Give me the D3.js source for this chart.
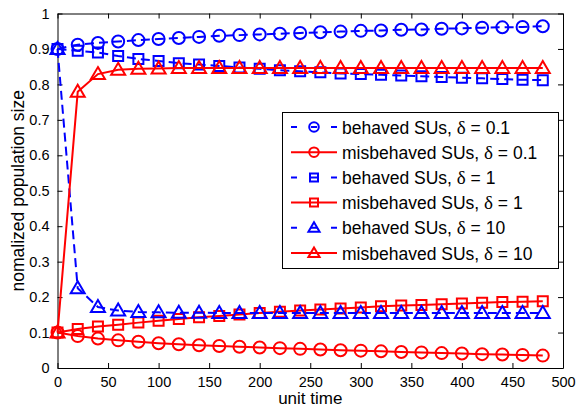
<!DOCTYPE html>
<html>
<head>
<meta charset="utf-8">
<script src="https://cdn.jsdelivr.net/npm/d3@7"></script>
<style>
  body { margin: 0; background: #fff; }
  text { font-family: "Liberation Sans", Arial, sans-serif; fill: #000; }
</style>
</head>
<body>
<div id="chart-area"></div>
<script>
// Data
const TIME = d3.range(0, 481, 20)

const behaved01 = [0.9, 0.912, 0.917, 0.921, 0.925, 0.928, 0.931, 0.934, 0.937, 0.939, 0.941, 0.943, 0.945,
  0.947, 0.949, 0.951, 0.952, 0.954, 0.955, 0.957, 0.958, 0.96, 0.961, 0.962, 0.964]
const misbehaved01 = [0.1, 0.09, 0.083, 0.078, 0.074, 0.07, 0.067, 0.064, 0.062, 0.06, 0.058, 0.056, 0.054,
  0.052, 0.05, 0.049, 0.047, 0.045, 0.044, 0.042, 0.041, 0.039, 0.038, 0.037, 0.035]
const behaved1 = [0.9, 0.895, 0.89, 0.88, 0.872, 0.866, 0.86, 0.856, 0.852, 0.848, 0.844, 0.84, 0.837,
  0.834, 0.831, 0.829, 0.827, 0.825, 0.823, 0.821, 0.819, 0.817, 0.815, 0.813, 0.812]
const misbehaved1 = [0.1, 0.11, 0.117, 0.122, 0.128, 0.133, 0.138, 0.143, 0.147, 0.151, 0.155, 0.159, 0.162,
  0.165, 0.168, 0.171, 0.174, 0.176, 0.178, 0.18, 0.182, 0.184, 0.186, 0.187, 0.188]
const behaved10 = [0.9, 0.225, 0.172, 0.162, 0.158, 0.157, 0.156, 0.156, 0.155, 0.155, 0.155, 0.155, 0.155,
  0.155, 0.155, 0.155, 0.155, 0.155, 0.155, 0.155, 0.155, 0.155, 0.155, 0.155, 0.155]
const misbehaved10 = [0.1, 0.779, 0.829, 0.841, 0.844, 0.845, 0.846, 0.846, 0.846, 0.846, 0.846, 0.846, 0.846,
  0.846, 0.846, 0.846, 0.846, 0.846, 0.846, 0.846, 0.846, 0.846, 0.846, 0.846, 0.846]

// legend text: [group, delta value]
const LABELS = [['behaved SUs, ', '0.1'], ['misbehaved SUs, ', '0.1'], ['behaved SUs, ', '1'],
  ['misbehaved SUs, ', '1'], ['behaved SUs, ', '10'], ['misbehaved SUs, ', '10']]
const X_TICKS = d3.range(0, 501, 50)
const Y_TICKS = d3.range(0, 1.01, 0.1)

const series = [
  { label: LABELS[0], values: behaved01, color: '#0000ff', dash: true, marker: 'circle' },
  { label: LABELS[1], values: misbehaved01, color: '#ff0000', dash: false, marker: 'circle' },
  { label: LABELS[2], values: behaved1, color: '#0000ff', dash: true, marker: 'square' },
  { label: LABELS[3], values: misbehaved1, color: '#ff0000', dash: false, marker: 'square' },
  { label: LABELS[4], values: behaved10, color: '#0000ff', dash: true, marker: 'triangle' },
  { label: LABELS[5], values: misbehaved10, color: '#ff0000', dash: false, marker: 'triangle' }
]

// Sizing
const W = 577, H = 408
const MARGIN = { LEFT: 57.5, RIGHT: 14, TOP: 13.5, BOTTOM: 40 }
const WIDTH = W - MARGIN.LEFT - MARGIN.RIGHT
const HEIGHT = H - MARGIN.TOP - MARGIN.BOTTOM

const svg = d3.select('#chart-area').append('svg')
  .attr('width', W)
  .attr('height', H)

const g = svg.append('g')
  .attr('transform', `translate(${MARGIN.LEFT}, ${MARGIN.TOP})`)

const x = d3.scaleLinear().domain([0, 500]).range([0, WIDTH])
const y = d3.scaleLinear().domain([0, 1]).range([HEIGHT, 0])

// Axes (ticks inward, box on)
const fmt = d => d3.format('.1~f')(d)
g.append('g').attr('transform', `translate(0, ${HEIGHT})`)
  .call(d3.axisBottom(x).tickValues(X_TICKS).tickSizeInner(-5).tickSizeOuter(0).tickPadding(9))
g.append('g')
  .call(d3.axisTop(x).tickValues(X_TICKS).tickSizeInner(-5).tickSizeOuter(0).tickFormat(''))
g.append('g')
  .call(d3.axisLeft(y).tickValues(Y_TICKS).tickSizeInner(-5).tickSizeOuter(0).tickPadding(8).tickFormat(fmt))
g.append('g').attr('transform', `translate(${WIDTH}, 0)`)
  .call(d3.axisRight(y).tickValues(Y_TICKS).tickSizeInner(-5).tickSizeOuter(0).tickFormat(''))

g.selectAll('.domain').attr('stroke', '#000').attr('stroke-width', 1)
g.selectAll('.tick line').attr('stroke', '#000')
g.selectAll('.tick text').attr('font-size', '14.5px').attr('font-family', '"Liberation Sans", Arial, sans-serif')

// Axis labels
g.append('text')
  .attr('x', WIDTH / 2)
  .attr('y', HEIGHT + 36)
  .attr('text-anchor', 'middle')
  .attr('font-size', '17px')
  .text('unit time')

g.append('text')
  .attr('transform', 'rotate(-90)')
  .attr('x', -HEIGHT / 2)
  .attr('y', -34)
  .attr('text-anchor', 'middle')
  .attr('font-size', '17.5px')
  .text('nomalized population size')

// markers
function markerPath(type, k = 1) {
  if (type === 'circle') return `M${6 * k},0A${6 * k},${6 * k} 0 1,1 ${-6 * k},0A${6 * k},${6 * k} 0 1,1 ${6 * k},0Z`
  if (type === 'square') return `M${-5 * k},${-5 * k}H${5 * k}V${5 * k}H${-5 * k}Z`
  return `M0,${-7 * k}L${7 * k},${5 * k}H${-7 * k}Z`
}

const line = d3.line()
  .x((d, i) => x(TIME[i]))
  .y(d => y(d))

series.forEach(s => {
  g.append('path')
    .datum(s.values)
    .attr('fill', 'none')
    .attr('stroke', s.color)
    .attr('stroke-width', 2)
    .attr('stroke-dasharray', s.dash ? '9,5' : null)
    .attr('d', line)

  g.selectAll(null)
    .data(s.values)
    .enter().append('path')
    .attr('transform', (d, i) => `translate(${x(TIME[i])}, ${y(d)})`)
    .attr('d', markerPath(s.marker))
    .attr('fill', 'none')
    .attr('stroke', s.color)
    .attr('stroke-width', 2)
})

// Legend
const LEG = { X: 282, Y: 112, W: 276, H: 156, ROW: 25.2 }
const legend = svg.append('g')
legend.append('rect')
  .attr('x', LEG.X + 0.5).attr('y', LEG.Y + 0.5)
  .attr('width', LEG.W).attr('height', LEG.H)
  .attr('fill', '#fff').attr('stroke', '#000').attr('stroke-width', 1)

series.forEach((s, i) => {
  const cy = LEG.Y + 15 + i * LEG.ROW
  const row = legend.append('g')
  row.append('line')
    .attr('x1', LEG.X + 9).attr('x2', LEG.X + 55)
    .attr('y1', cy).attr('y2', cy)
    .attr('stroke', s.color).attr('stroke-width', 2)
    .attr('stroke-dasharray', s.dash ? '6,14' : null)
  row.append('path')
    .attr('transform', `translate(${LEG.X + 32}, ${cy})`)
    .attr('d', markerPath(s.marker, 0.8))
    .attr('fill', 'none').attr('stroke', s.color).attr('stroke-width', 2)
  const t = row.append('text')
    .attr('x', LEG.X + 60)
    .attr('y', cy + 6.5)
    .attr('font-size', '17.5px')
  t.append('tspan').text(s.label[0])
  t.append('tspan').attr('font-family', '"Liberation Serif", "Times New Roman", serif').attr('font-size', '19px').text('δ')
  t.append('tspan').text(' = ' + s.label[1])
})
</script>
</body>
</html>
